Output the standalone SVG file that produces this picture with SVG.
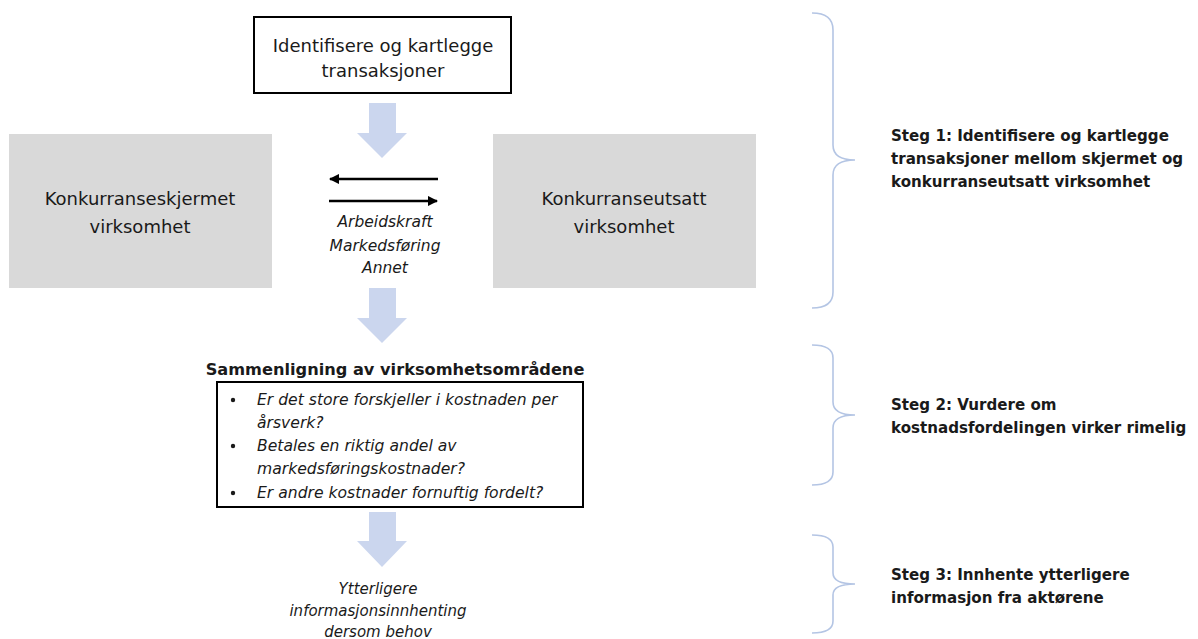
<svg xmlns="http://www.w3.org/2000/svg" width="1198" height="639" viewBox="0 0 1198 639">
  <defs>
    <style>
      .txt { font-family: "DejaVu Sans", "Liberation Sans", sans-serif; fill: #1a1a1a; }
      .box { fill: #ffffff; stroke: #000000; stroke-width: 2; }
      .grey { fill: #d9d9d9; }
      .flow { fill: #cbd6ee; }
      .brace { fill: none; stroke: #b4c5e4; stroke-width: 1.6; }
      .link { stroke: #000000; stroke-width: 2.5; fill: none; }
      .steg { font-size: 15.1px; font-weight: bold; }
      .it { font-style: italic; }
    </style>
    <marker id="head" viewBox="0 0 10 10" refX="9" refY="5" markerWidth="4.2" markerHeight="4.2" orient="auto-start-reverse" markerUnits="strokeWidth">
      <path d="M0,0 L10,5 L0,10 z" fill="#000"/>
    </marker>
  </defs>

  <rect width="1198" height="639" fill="#ffffff"/>

  <!-- Top process box -->
  <g id="identify">
    <rect class="box" x="254" y="17" width="257" height="76"/>
    <text class="txt" font-size="18" text-anchor="middle" x="383" y="52">Identifisere og kartlegge</text>
    <text class="txt" font-size="18" text-anchor="middle" x="383" y="77">transaksjoner</text>
  </g>

  <!-- Business areas -->
  <g id="skjermet">
    <rect class="grey" x="9" y="134" width="263" height="154"/>
    <text class="txt" font-size="18" text-anchor="middle" x="140" y="205">Konkurranseskjermet</text>
    <text class="txt" font-size="18" text-anchor="middle" x="140" y="233">virksomhet</text>
  </g>
  <g id="utsatt">
    <rect class="grey" x="493" y="134" width="263" height="154"/>
    <text class="txt" font-size="18" text-anchor="middle" x="624" y="205">Konkurranseutsatt</text>
    <text class="txt" font-size="18" text-anchor="middle" x="624" y="233">virksomhet</text>
  </g>

  <!-- Transaction types -->
  <g id="transactions">
    <text class="txt it" font-size="15.5" text-anchor="middle" x="385" y="227">Arbeidskraft</text>
    <text class="txt it" font-size="15.5" text-anchor="middle" x="385" y="251">Markedsføring</text>
    <text class="txt it" font-size="15.5" text-anchor="middle" x="385" y="273">Annet</text>
  </g>

  <!-- Comparison -->
  <g id="comparison">
    <text class="txt" font-size="16.2" font-weight="bold" text-anchor="middle" x="395" y="375">Sammenligning av virksomhetsområdene</text>
    <rect class="box" x="217" y="382" width="366" height="125"/>
    <g class="txt it" font-size="15.6">
      <circle cx="233" cy="400" r="2.2" fill="#1a1a1a"/>
      <text x="257" y="405">Er det store forskjeller i kostnaden per</text>
      <text x="257" y="428">årsverk?</text>
      <circle cx="233" cy="446" r="2.2" fill="#1a1a1a"/>
      <text x="257" y="451">Betales en riktig andel av</text>
      <text x="257" y="474">markedsføringskostnader?</text>
      <circle cx="233" cy="493" r="2.2" fill="#1a1a1a"/>
      <text x="257" y="498">Er andre kostnader fornuftig fordelt?</text>
    </g>
  </g>

  <!-- Further information -->
  <g id="further">
    <text class="txt it" font-size="15" text-anchor="middle" x="378" y="594">Ytterligere</text>
    <text class="txt it" font-size="15" text-anchor="middle" x="378" y="616">informasjonsinnhenting</text>
    <text class="txt it" font-size="15" text-anchor="middle" x="378" y="637">dersom behov</text>
  </g>

  <!-- Step labels -->
  <g id="steg1">
    <text class="txt steg" x="891" y="141">Steg 1: Identifisere og kartlegge</text>
    <text class="txt steg" x="891" y="164">transaksjoner mellom skjermet og</text>
    <text class="txt steg" x="891" y="187">konkurranseutsatt virksomhet</text>
  </g>
  <g id="steg2">
    <text class="txt steg" x="891" y="410">Steg 2: Vurdere om</text>
    <text class="txt steg" x="891" y="433">kostnadsfordelingen virker rimelig</text>
  </g>
  <g id="steg3">
    <text class="txt steg" x="891" y="580">Steg 3: Innhente ytterligere</text>
    <text class="txt steg" x="891" y="603">informasjon fra aktørene</text>
  </g>

  <!-- Connectors -->
  <g id="connectors">
    <!-- block flow arrows -->
    <path class="flow" d="M369,103 H396 V133 H407 L382,158 L357,133 H369 Z"/>
    <path class="flow" d="M369,288 H396 V318 H407 L382,343 L357,318 H369 Z"/>
    <path class="flow" d="M369,512 H396 V541 H407 L382,567 L357,541 H369 Z"/>
    <!-- transaction arrows -->
    <line class="link" x1="438" y1="179" x2="330" y2="179" marker-end="url(#head)"/>
    <line class="link" x1="329" y1="201" x2="437" y2="201" marker-end="url(#head)"/>
    <!-- step braces -->
    <path class="brace" d="M812,13 Q833,13 833,30 L833,145 Q833,160 855,160 Q833,160 833,175 L833,292 Q833,308 812,308"/>
    <path class="brace" d="M812,345 Q833,345 833,358 L833,402 Q833,415 855,415 Q833,415 833,428 L833,472 Q833,485 812,485"/>
    <path class="brace" d="M812,535 Q833,535 833,547 L833,573 Q833,584 855,584 Q833,584 833,595 L833,621 Q833,633 812,633"/>
  </g>
</svg>
